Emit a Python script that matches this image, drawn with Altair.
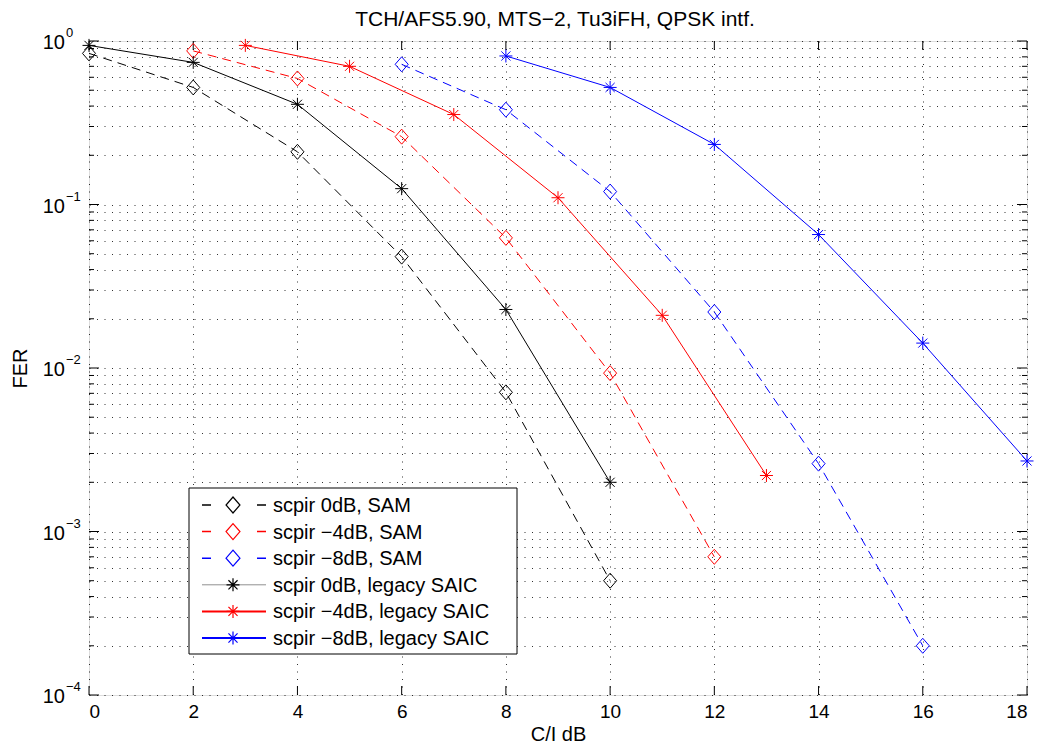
import altair as alt
import pandas as pd

# ---------------- data ----------------
title_text = "TCH/AFS5.90, MTS\u22122, Tu3iFH, QPSK intf."

x_sam_0 = [0, 2, 4, 6, 8, 10]
y_sam_0 = [0.84, 0.52, 0.21, 0.048, 0.0071, 0.0005]
x_sam_4 = [2, 4, 6, 8, 10, 12]
y_sam_4 = [0.87, 0.59, 0.26, 0.0625, 0.0093, 0.0007]
x_sam_8 = [6, 8, 10, 12, 14, 16]
y_sam_8 = [0.72, 0.38, 0.12, 0.022, 0.0026, 0.0002]
x_leg_0 = [0, 2, 4, 6, 8, 10]
y_leg_0 = [0.94, 0.74, 0.41, 0.125, 0.0228, 0.002]
x_leg_4 = [3, 5, 7, 9, 11, 13]
y_leg_4 = [0.94, 0.70, 0.355, 0.11, 0.021, 0.0022]
x_leg_8 = [8, 10, 12, 14, 16, 18]
y_leg_8 = [0.81, 0.52, 0.233, 0.0655, 0.0142, 0.0027]

series_labels = [
    "scpir 0dB, SAM",
    "scpir \u22124dB, SAM",
    "scpir \u22128dB, SAM",
    "scpir 0dB, legacy SAIC",
    "scpir \u22124dB, legacy SAIC",
    "scpir \u22128dB, legacy SAIC",
]
series_colors = ["#000000", "#ff0000", "#0000ff", "#000000", "#ff0000", "#0000ff"]
series_kind = ["sam", "sam", "sam", "legacy", "legacy", "legacy"]
series_x = [x_sam_0, x_sam_4, x_sam_8, x_leg_0, x_leg_4, x_leg_8]
series_y = [y_sam_0, y_sam_4, y_sam_8, y_leg_0, y_leg_4, y_leg_8]

x_ticks = [0, 2, 4, 6, 8, 10, 12, 14, 16, 18]
y_major = [1e-4, 1e-3, 1e-2, 1e-1, 1.0]
y_exponents = ["\u22124", "\u22123", "\u22122", "\u22121", "0"]
y_minor = [m * 10.0 ** k for k in range(-4, 0) for m in range(2, 10)]

# ---------------- layout ----------------
W, H = 938, 654
FONT = "Liberation Sans"
DIAMOND = "M0,-1L0.87,0L0,1L-0.87,0Z"
STAR = "M0,-1L0,1M-1,0L1,0M-0.7,-0.7L0.7,0.7M-0.7,0.7L0.7,-0.7"
GRID = dict(grid=True, gridColor="#000", gridDash=[1, 6.5], gridOpacity=0.8, gridWidth=1)

xscale = alt.Scale(domain=[0, 18], nice=False, zero=False)
yscale = alt.Scale(type="log", domain=[1e-4, 1], nice=False)

X_ENC = alt.X(
    "x:Q", scale=xscale,
    axis=alt.Axis(values=x_ticks, ticks=False, domain=False,
                  title="C/I dB", labelFontSize=19, labelPadding=7,
                  titleFontSize=20, titleFontWeight="normal", titlePadding=3,
                  labelColor="#000", titleColor="#000", labelFont=FONT, titleFont=FONT,
                  **GRID),
)
Y_ENC = alt.Y(
    "y:Q", scale=yscale,
    axis=alt.Axis(values=sorted(y_major + y_minor), ticks=False, domain=False,
                  labels=False, title="FER", titleFontSize=20, titleFontWeight="normal",
                  titlePadding=59, titleColor="#000", titleFont=FONT, **GRID),
)

layers = []

# inward ticks
xt = pd.DataFrame({"x": x_ticks})
layers.append(alt.Chart(xt).mark_rule(color="#000", strokeWidth=1).encode(
    x=X_ENC, y=alt.value(H), y2=alt.value(H - 9)))
layers.append(alt.Chart(xt).mark_rule(color="#000", strokeWidth=1).encode(
    x=X_ENC, y=alt.value(0), y2=alt.value(9)))
ymaj = pd.DataFrame({"y": y_major})
ymin = pd.DataFrame({"y": y_minor})
for df, ln in [(ymaj, 10), (ymin, 5)]:
    layers.append(alt.Chart(df).mark_rule(color="#000", strokeWidth=1).encode(
        y=Y_ENC, x=alt.value(0), x2=alt.value(ln)))
    layers.append(alt.Chart(df).mark_rule(color="#000", strokeWidth=1).encode(
        y=Y_ENC, x=alt.value(W), x2=alt.value(W - ln)))

# y tick labels (10 with superscript exponent)
ylab = pd.DataFrame({"y": y_major, "base": ["10"] * len(y_major), "exp": y_exponents})
layers.append(alt.Chart(ylab).mark_text(align="right", baseline="middle", fontSize=20,
                                         font=FONT, color="#000", dy=2).encode(
    y=Y_ENC, x=alt.value(-24), text="base:N"))
layers.append(alt.Chart(ylab).mark_text(align="left", baseline="middle", fontSize=13,
                                         font=FONT, color="#000", dy=-8).encode(
    y=Y_ENC, x=alt.value(-23), text="exp:N"))

# data series
for xs, ys, col, kind in zip(series_x, series_y, series_colors, series_kind):
    df = pd.DataFrame({"x": xs, "y": ys})
    base = alt.Chart(df)
    if kind == "sam":
        layers.append(base.mark_line(color=col, strokeWidth=1, strokeDash=[9, 6]).encode(x=X_ENC, y=Y_ENC))
        layers.append(base.mark_point(shape=DIAMOND, filled=False, size=225, color=col,
                                      strokeWidth=1, opacity=1).encode(x=X_ENC, y=Y_ENC))
    else:
        layers.append(base.mark_line(color=col, strokeWidth=1).encode(x=X_ENC, y=Y_ENC))
        layers.append(base.mark_point(shape=STAR, filled=False, size=169, color=col,
                                      strokeWidth=1, opacity=1).encode(x=X_ENC, y=Y_ENC))

# title
layers.append(alt.Chart(pd.DataFrame({"t": [title_text]})).mark_text(
    align="center", baseline="middle", fontSize=21, font=FONT, color="#000").encode(
    x=alt.value(W / 2 - 3), y=alt.value(-21), text="t:N"))

# legend
leg_left, leg_right, leg_top, leg_bottom = 100, 428, 447, 613
row0, row_step = 464, 26.6
layers.append(alt.Chart(pd.DataFrame({"a": [0]})).mark_rect(fill="#fff", stroke="#000", strokeWidth=1).encode(
    x=alt.value(leg_left), x2=alt.value(leg_right), y=alt.value(leg_top), y2=alt.value(leg_bottom)))
for i, (lab, col, kind) in enumerate(zip(series_labels, series_colors, series_kind)):
    ry = row0 + i * row_step
    one = alt.Chart(pd.DataFrame({"label": [lab]}))
    if kind == "sam":
        layers.append(one.mark_rule(color=col, strokeWidth=1.5, strokeDash=[9, 46]).encode(
            x=alt.value(113), x2=alt.value(177), y=alt.value(ry)))
        layers.append(one.mark_point(shape=DIAMOND, filled=False, size=256, color=col,
                                     strokeWidth=1.2, opacity=1).encode(x=alt.value(144), y=alt.value(ry)))
    else:
        sw = 0.8 if col == "#000000" else 2
        op = 0.55 if col == "#000000" else 1
        layers.append(one.mark_rule(color=col, strokeWidth=sw, opacity=op).encode(
            x=alt.value(113), x2=alt.value(177), y=alt.value(ry)))
        layers.append(one.mark_point(shape=STAR, filled=False, size=169, color=col,
                                     strokeWidth=1.2, opacity=1).encode(x=alt.value(144), y=alt.value(ry)))
    layers.append(one.mark_text(align="left", baseline="middle", fontSize=20, font=FONT, color="#000").encode(
        x=alt.value(184), y=alt.value(ry + 1), text="label:N"))

chart = alt.layer(*layers).properties(
    width=W, height=H,
    autosize=alt.AutoSizeParams(type="none"),
    padding={"left": 81, "top": 33, "right": 9, "bottom": 50},
).configure_view(stroke="#000", strokeWidth=1).configure(background="#ffffff")

chart.save("out.html", embed_options={"renderer": "svg", "actions": False})
